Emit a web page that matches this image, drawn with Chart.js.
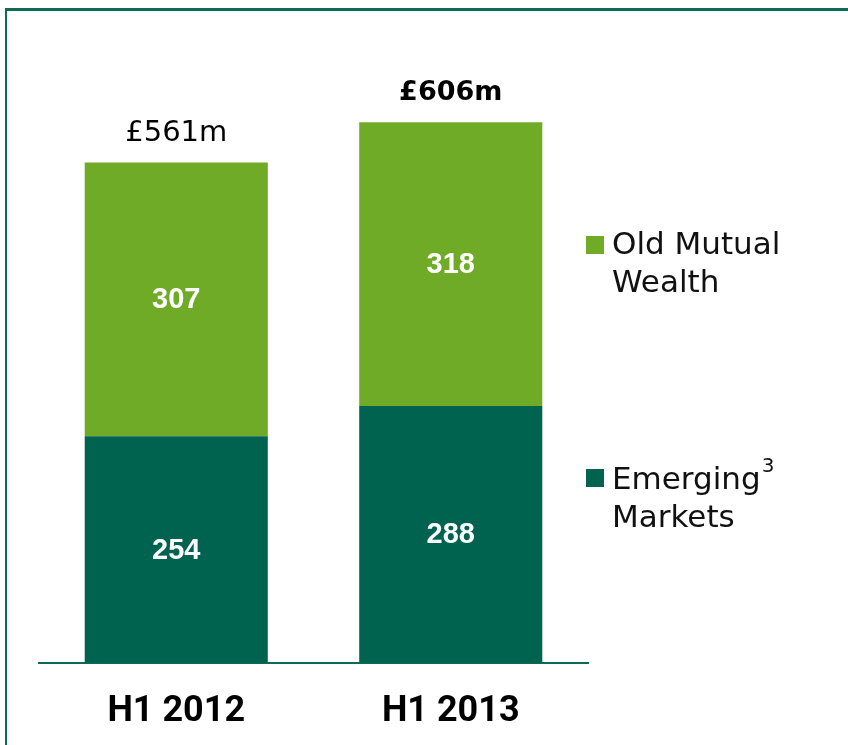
<!DOCTYPE html>
<html>
<head>
<meta charset="utf-8">
<script src="https://cdn.jsdelivr.net/npm/chart.js@4.4.0/dist/chart.umd.min.js"></script>
<style>
  html, body { margin: 0; padding: 0; background: #ffffff; overflow: hidden; }
  #wrap { position: relative; width: 848px; height: 745px; overflow: hidden; }
  #frame { position: absolute; left: 5px; top: 8px; width: 900px; height: 800px;
           border-top: 3px solid #0d6a55; border-left: 2px solid #0d6a55; }
  canvas { position: absolute; left: 0; top: 0; }
</style>
</head>
<body>
<div id="wrap">
  <div id="frame"></div>
  <canvas id="c" width="848" height="776"></canvas>
</div>
<script>
// ---- data ----
const categories = ['H1 2012', 'H1 2013'];
const emergingMarkets = [254, 288];
const oldMutualWealth = [307, 318];
const totalLabels = ['£561m', '£606m'];
const totalBold = [false, true];
const legendEmerging = ['Emerging', 'Markets'];
const legendOMW = ['Old Mutual', 'Wealth'];

const DARK = '#00634f';
const LIGHT = '#6fab27';

const overlay = {
  id: 'overlay',
  afterDatasetsDraw(chart) {
    const ctx = chart.ctx;
    const x = chart.scales.x, y = chart.scales.y;
    ctx.save();
    // segment labels
    ctx.textAlign = 'center';
    ctx.textBaseline = 'middle';
    ctx.fillStyle = '#ffffff';
    ctx.font = 'bold 29px "Liberation Sans", Arial, sans-serif';
    chart.data.datasets.forEach((ds, di) => {
      const meta = chart.getDatasetMeta(di);
      meta.data.forEach((bar, i) => {
        const p = bar.getProps(['x', 'y', 'base'], true);
        ctx.fillText(String(ds.data[i]), p.x, (p.y + p.base) / 2 + 1);
      });
    });
    // totals
    ctx.fillStyle = '#000000';
    categories.forEach((c, i) => {
      const total = emergingMarkets[i] + oldMutualWealth[i];
      const px = x.getPixelForValue(i);
      const py = y.getPixelForValue(total) - 29;
      ctx.font = (totalBold[i] ? 'bold 27px ' : '29px ') + '"DejaVu Sans", sans-serif';
      ctx.fillText(totalLabels[i], px, py);
    });
    // legend
    ctx.textAlign = 'left';
    ctx.textBaseline = 'alphabetic';
    const items = [
      { color: LIGHT, lines: legendOMW, boxTop: 236, base: 254, sup: null },
      { color: DARK, lines: legendEmerging, boxTop: 469, base: 489, sup: '3' }
    ];
    items.forEach(it => {
      ctx.fillStyle = it.color;
      ctx.fillRect(586, it.boxTop, 18, 18);
      ctx.fillStyle = '#111111';
      ctx.font = '31px "DejaVu Sans", sans-serif';
      it.lines.forEach((ln, k) => ctx.fillText(ln, 612, it.base + k * 38));
      if (it.sup) {
        const w = ctx.measureText(it.lines[0]).width;
        ctx.font = '20px "DejaVu Sans", sans-serif';
        ctx.fillText(it.sup, 612 + w + 1, it.base - 17);
      }
    });
    ctx.restore();
  }
};

new Chart(document.getElementById('c'), {
  type: 'bar',
  data: {
    labels: categories,
    datasets: [
      { label: 'Emerging Markets', data: emergingMarkets, backgroundColor: DARK, stack: 's' },
      { label: 'Old Mutual Wealth', data: oldMutualWealth, backgroundColor: LIGHT, stack: 's' }
    ]
  },
  options: {
    responsive: false,
    animation: false,
    events: [],
    layout: { padding: { left: 39, right: 260, top: 83, bottom: 14 } },
    datasets: { bar: { categoryPercentage: 1.0, barPercentage: 0.667 } },
    plugins: { legend: { display: false }, tooltip: { enabled: false } },
    scales: {
      x: {
        stacked: true,
        offset: true,
        grid: { display: false, drawTicks: false },
        border: { display: true, color: '#0d6a55', width: 2 },
        ticks: { color: '#000000', padding: 28,
                 font: { family: 'Roboto, "Liberation Sans", sans-serif', size: 36, weight: 'bold' } }
      },
      y: {
        stacked: true,
        display: false,
        min: 0,
        max: 650
      }
    }
  },
  plugins: [overlay]
});
</script>
</body>
</html>
